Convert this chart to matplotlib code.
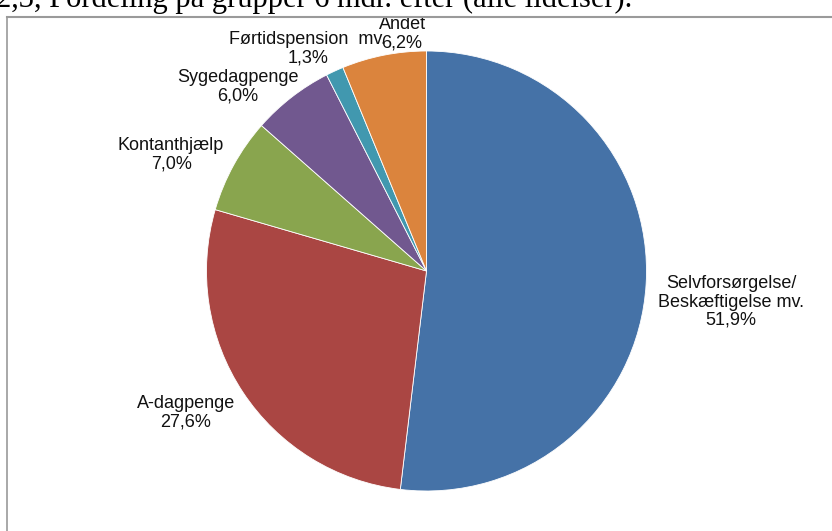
import matplotlib
matplotlib.use("Agg")
import matplotlib.pyplot as plt
from matplotlib.lines import Line2D

# ── data ──
labels = ["Selvforsørgelse/\nBeskæftigelse mv.", "A-dagpenge", "Kontanthjælp",
          "Sygedagpenge", "Førtidspension  mv.", "Andet"]
shares = [51.9, 27.6, 7.0, 6.0, 1.3, 6.2]
colors = ["#4572A7", "#AA4643", "#89A54E", "#71588F", "#4198AF", "#DB843D"]
caption = "2,3, Fordeling på grupper 6 mdr. efter (alle lidelser)."

# label centres in pie-radius units (pie centre = 0,0)
label_xy = [(1.384, -0.141), (-1.093, -0.645), (-1.161, 0.527),
            (-0.857, 0.836), (-0.539, 1.009), (-0.111, 1.077)]

W, H = 832, 531
cx, cy, R = 426.5, 271, 220   # pie centre / radius in pixels

fig = plt.figure(figsize=(W / 100, H / 100), dpi=100)
ax = fig.add_axes([0, 0, 1, 1])

ax.pie(shares, colors=colors, startangle=90, counterclock=False,
       radius=1, wedgeprops=dict(edgecolor="white", linewidth=0.6))
ax.set_aspect("auto")
ax.set_xlim(-cx / R, (W - cx) / R)
ax.set_ylim(-(H - cy) / R, cy / R)
ax.axis("off")

for lab, val, (x, y) in zip(labels, shares, label_xy):
    txt = lab + "\n" + f"{val:.1f}".replace(".", ",") + "%"
    ax.text(x, y, txt, ha="center", va="center", fontsize=13,
            family="Liberation Sans", linespacing=1.1, color="#111111")

# chart frame (left + top edges visible)
fig.add_artist(Line2D([7 / W, 7 / W], [0, 1 - 17 / H], color="#9a9a9a", lw=1.2,
                      transform=fig.transFigure))
fig.add_artist(Line2D([7 / W, 1], [1 - 17 / H, 1 - 17 / H], color="#9a9a9a", lw=1.5,
                      transform=fig.transFigure))

# caption from the page above, cut off by the crop
fig.text(-0.005, 1 - 7 / H, caption, family="Liberation Serif", fontsize=22,
         ha="left", va="baseline", color="black")

fig.savefig("out.png", dpi=100)
